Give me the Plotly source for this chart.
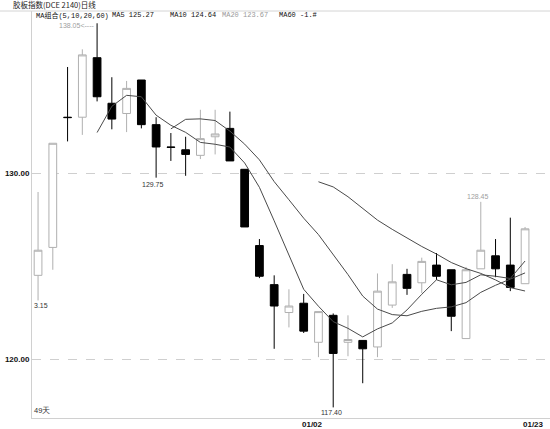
"""Daily candlestick chart with moving averages."""

import plotly.graph_objects as go
import pandas as pd

# OHLC values, one entry per trading day
days = list(range(34))
open_px = [124.5, 126.0, 133.0, 133.0, 136.2, 133.75, 133.2, 135.0, 132.6, 131.4,
           131.25, 130.95, 131.95, 132.4, 130.2, 126.1, 124.0, 122.5, 123.0, 120.9,
           122.35, 120.9, 121.0, 120.65, 122.9, 124.55, 124.1, 125.05, 124.8, 121.1,
           124.85, 125.55, 125.05, 124.05]
high_px = [128.98, 131.6, 135.7, 136.65, 138.05, 135.15, 134.95, 135.0, 133.0, 132.15,
           131.95, 133.4, 133.4, 133.3, 130.2, 126.45, 124.5, 123.75, 123.5, 122.55,
           122.45, 122.35, 121.0, 124.6, 125.1, 124.85, 125.45, 125.7, 124.8, 124.95,
           128.45, 126.45, 127.6, 127.1]
low_px = [123.15, 124.8, 131.7, 132.05, 133.85, 132.35, 132.2, 132.4, 129.75, 130.65,
          129.85, 130.75, 131.0, 130.65, 127.1, 124.35, 120.55, 121.7, 121.4, 120.1,
          117.4, 120.15, 118.7, 120.1, 122.75, 123.45, 123.55, 124.25, 121.5, 121.1,
          124.85, 124.4, 123.65, 124.05]
close_px = [125.85, 131.6, 132.98, 136.35, 134.1, 132.9, 134.55, 132.6, 131.4, 131.38,
            131.0, 131.85, 132.1, 130.65, 127.1, 124.45, 122.85, 122.85, 121.5, 122.55,
            120.3, 121.05, 120.55, 123.65, 124.15, 123.8, 125.25, 124.45, 122.3, 124.8,
            125.85, 124.85, 123.85, 127.0]

x_tick_days = [18, 33]
x_tick_labels = ["01/02", "01/23"]
y_tick_vals = [120, 130]
y_tick_labels = ["120.00", "130.00"]

title_text = "胶板指数(DCE 2140)日线"
header_texts = ["MA组合(5,10,20,60)", "MA5 125.27", "MA10 124.64", "MA20 123.67", "MA60 -1.#"]

closes = pd.Series(close_px)
ma5 = closes.rolling(5).mean()
ma10 = closes.rolling(10).mean()
ma20 = closes.rolling(20).mean()

LABEL_FONT = "Liberation Sans, Arial, sans-serif"
MONO_FONT = "Liberation Mono, DejaVu Sans Mono, Noto Sans CJK SC, monospace"

fig = go.Figure()

fig.add_trace(go.Candlestick(
    x=days,
    open=open_px,
    high=high_px,
    low=low_px,
    close=close_px,
    increasing=dict(line=dict(color="#b0b0b0", width=1), fillcolor="#ffffff"),
    decreasing=dict(line=dict(color="#000000", width=1), fillcolor="#000000"),
    whiskerwidth=0,
    showlegend=False
))

for ma in (ma5, ma10, ma20):
    fig.add_trace(go.Scatter(
        x=days,
        y=ma,
        mode="lines",
        line=dict(color="#4a4a4a", width=1),
        showlegend=False,
        hoverinfo="skip"
    ))

# high / low markers
fig.add_annotation(x=4, y=high_px[4], text=f"{high_px[4]:.2f}<----", showarrow=False,
                   xanchor="right", yanchor="middle", xshift=-1, yshift=-2,
                   font=dict(size=7, color="#a0a0a0", family=LABEL_FONT))
fig.add_annotation(x=8, y=low_px[8], text=f"{low_px[8]:.2f}", showarrow=False,
                   xanchor="center", yanchor="top", xshift=-3, yshift=-1,
                   font=dict(size=7, color="#333333", family=LABEL_FONT))
fig.add_annotation(x=20, y=low_px[20], text=f"{low_px[20]:.2f}", showarrow=False,
                   xanchor="center", yanchor="top", xshift=-2, yshift=0,
                   font=dict(size=7, color="#333333", family=LABEL_FONT))
fig.add_annotation(x=30, y=high_px[30], text=f"{high_px[30]:.2f}", showarrow=False,
                   xanchor="center", yanchor="bottom", xshift=-3, yshift=0,
                   font=dict(size=7, color="#a0a0a0", family=LABEL_FONT))
fig.add_annotation(x=0, xref="paper", y=low_px[0], text="3.15", showarrow=False,
                   xanchor="left", yanchor="top", xshift=0, yshift=0,
                   font=dict(size=7, color="#333333", family=LABEL_FONT))
fig.add_annotation(x=0, xref="paper", y=0, yref="paper", text="49天", showarrow=False,
                   xanchor="left", yanchor="bottom", xshift=0, yshift=1,
                   font=dict(size=7.5, color="#333333", family=LABEL_FONT))

# date labels
for d, lbl in zip(x_tick_days, x_tick_labels):
    fig.add_annotation(x=d, y=0, yref="paper", text=f"<b>{lbl}</b>", showarrow=False,
                       xanchor="left", yanchor="middle", xshift=-4, yshift=-6,
                       font=dict(size=8, color="#111111", family=LABEL_FONT))

# title and MA header
fig.add_annotation(x=0, xref="paper", y=1, yref="paper", text=title_text, showarrow=False,
                   xanchor="left", yanchor="bottom", xshift=-21, yshift=-1,
                   font=dict(size=7.5, color="#222222", family="Noto Sans CJK SC"))
header_shifts = [2, 78, 136, 188, 245]
header_colors = ["#111111", "#111111", "#111111", "#9a9a9a", "#111111"]
for txt, sh, col in zip(header_texts, header_shifts, header_colors):
    fig.add_annotation(x=0, xref="paper", y=1, yref="paper", text=txt, showarrow=False,
                       xanchor="left", yanchor="top", xshift=sh, yshift=2,
                       font=dict(size=7, color=col, family=MONO_FONT))

# top frame line across the whole window
fig.add_shape(type="line", xref="paper", yref="paper", x0=-32 / 518, x1=1, y0=1, y1=1,
              line=dict(color="#d4d4d4", width=1))

fig.update_layout(
    width=550,
    height=429,
    margin=dict(l=32, r=0, t=11, b=11, pad=0),
    paper_bgcolor="#ffffff",
    plot_bgcolor="#ffffff",
    boxgap=0.25,
    xaxis=dict(
        range=[-0.41, 34.69],
        automargin=False,
        showgrid=False,
        zeroline=False,
        showticklabels=False,
        showline=True,
        linecolor="#d0d0d0",
        linewidth=1,
        rangeslider=dict(visible=False),
        fixedrange=True
    ),
    yaxis=dict(
        range=[116.83, 138.71],
        automargin=False,
        tickvals=y_tick_vals,
        ticktext=y_tick_labels,
        tickfont=dict(size=8, color="#111111", family=LABEL_FONT, weight="bold"),
        showgrid=True,
        gridcolor="#cfcfcf",
        griddash="dash",
        gridwidth=1,
        zeroline=False,
        showline=True,
        linecolor="#d0d0d0",
        linewidth=1,
        ticks="",
        fixedrange=True
    )
)

fig.write_html(
    "out.html",
    config={"displayModeBar": False},
    post_script="document.body.style.margin = '0';"
)
